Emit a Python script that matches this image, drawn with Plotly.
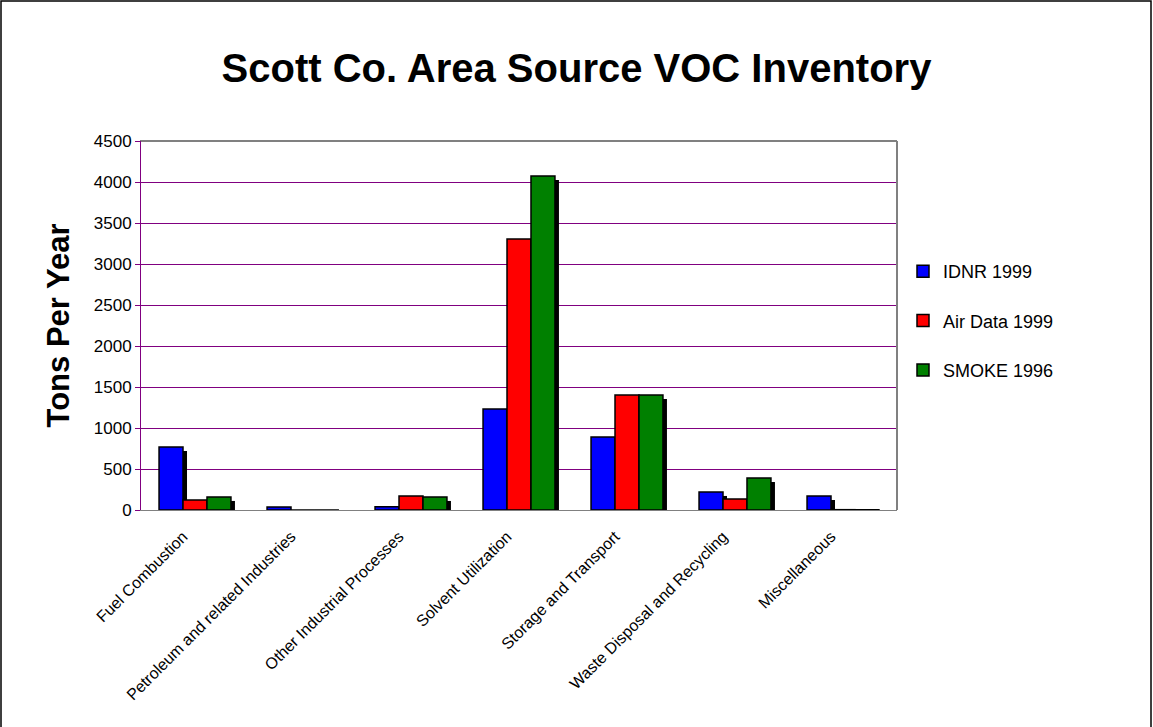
import plotly.graph_objects as go

categories = ["Fuel Combustion", "Petroleum and related Industries", "Other Industrial Processes",
              "Solvent Utilization", "Storage and Transport", "Waste Disposal and Recycling", "Miscellaneous"]
idnr_1999 = [768, 37, 40, 1232, 890, 220, 171]
airdata_1999 = [122, 0, 171, 3305, 1402, 134, 4]
smoke_1996 = [159, 0, 159, 4073, 1402, 390, 3]

series = [("IDNR 1999", idnr_1999, "#0000FF"),
          ("Air Data 1999", airdata_1999, "#FF0000"),
          ("SMOKE 1996", smoke_1996, "#008000")]

L, R, T, B = 141, 256, 141, 217
W, H = 1153, 727
pw, ph = W - L - R, H - T - B

x = list(range(len(categories)))
bw = 0.222
sx = 4 / pw * 7  # shadow shift in category units
sy = 4 / ph * 4500

fig = go.Figure()
for i, (name, vals, col) in enumerate(series):
    off = -1.5 * bw + i * bw
    fig.add_trace(go.Bar(x=x, y=vals, base=[-sy] * len(vals), width=bw, offset=off + sx,
                         marker=dict(color="black", line=dict(width=0)),
                         showlegend=False, hoverinfo="skip"))
for i, (name, vals, col) in enumerate(series):
    off = -1.5 * bw + i * bw
    fig.add_trace(go.Bar(x=x, y=vals, width=bw, offset=off, name=name, legendgroup=name,
                         marker=dict(color=col, line=dict(color="black", width=1.5))))

fig.update_layout(
    width=W, height=H, barmode="overlay",
    margin=dict(l=L, r=R, t=T, b=B),
    paper_bgcolor="white", plot_bgcolor="white",
    font=dict(family="Liberation Sans, Arial, sans-serif", color="black"),
    title=dict(text="<b>Scott Co. Area Source VOC Inventory</b>", x=0.5, xanchor="center",
               y=1 - 68 / H, yanchor="middle", font=dict(size=40)),
    legend=dict(x=(903 - L) / pw, y=(H - 253 - B) / ph, xanchor="left", yanchor="top",
                font=dict(size=18), tracegroupgap=23, itemwidth=30,
                bgcolor="rgba(0,0,0,0)", traceorder="grouped"),
    xaxis=dict(tickvals=x, ticktext=categories, range=[-0.5, 6.5], tickangle=-45,
               tickfont=dict(size=16), showgrid=False, showline=True, linecolor="#808080",
               mirror=True, ticks="", zeroline=False, ticklabelshift=-12, ticklabelstandoff=10),
    yaxis=dict(range=[0, 4500], dtick=500, tickfont=dict(size=17), showgrid=True,
               gridcolor="#800080", gridwidth=1, showline=True, linecolor="#800080",
               ticks="outside", ticklen=5, tickcolor="#800080", zeroline=False,
               title=dict(text="<b>Tons Per Year</b>", font=dict(size=31), standoff=14)),
    shapes=[
        dict(type="rect", xref="paper", yref="paper", x0=(1 - L) / pw, x1=(W - 2 - L) / pw,
             y0=(B - (H - 2)) / ph, y1=(H - 1 - B) / ph, line=dict(color="black", width=1.5)),
        dict(type="line", xref="paper", yref="paper", x0=0, x1=1, y0=1, y1=1,
             line=dict(color="#808080", width=2)),
        dict(type="line", xref="paper", yref="paper", x0=1, x1=1, y0=0, y1=1,
             line=dict(color="#808080", width=2)),
    ],
)
fig.write_html("out.html", config={"displayModeBar": False},
               post_script="document.body.style.margin='0';")
